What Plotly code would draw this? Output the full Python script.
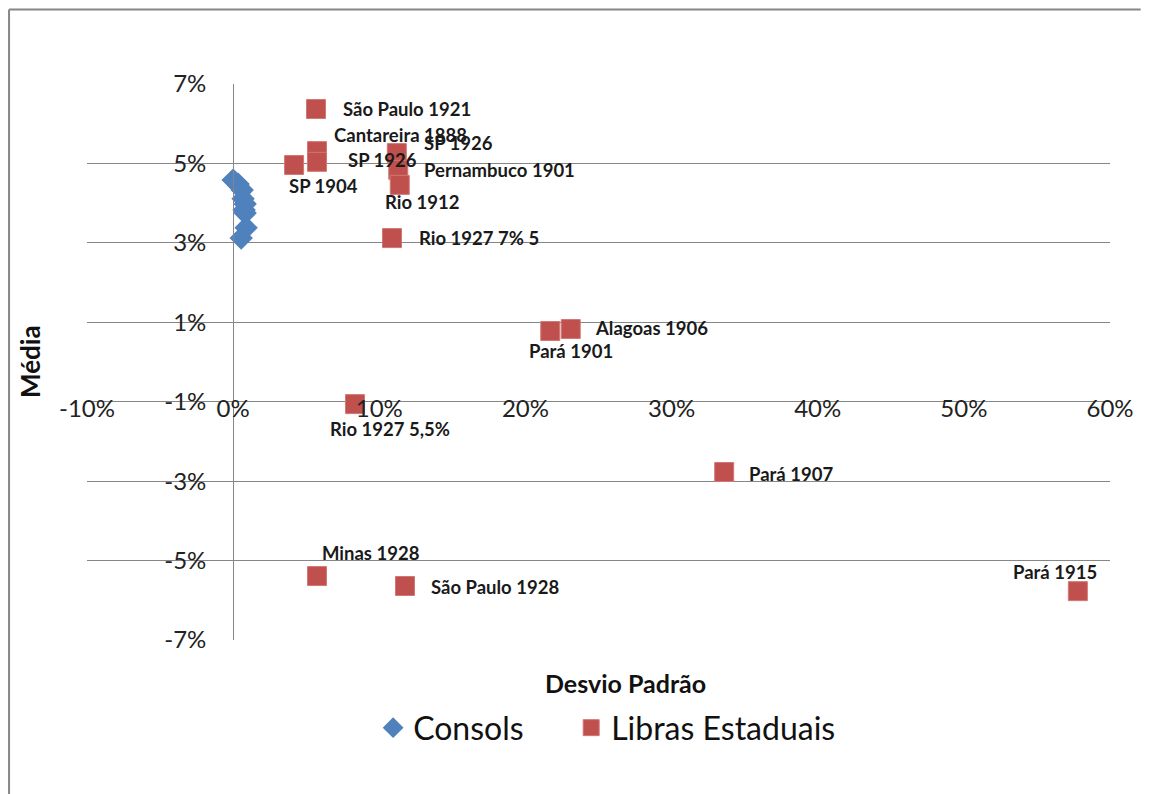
import plotly.graph_objects as go

# Consols (desvio padrão, média)
consols_x = [0.000, 0.0034, 0.0062, 0.0068, 0.0082, 0.0075, 0.0082, 0.0089, 0.0055]
consols_y = [0.0458, 0.0448, 0.0433, 0.0411, 0.0398, 0.0383, 0.0375, 0.0338, 0.0312]

# Libras Estaduais
libras_nomes = ["São Paulo 1921", "Cantareira 1888", "SP 1926", "SP 1904", "SP 1926",
                "Pernambuco 1901", "Rio 1912", "Rio 1927 7% 5", "Alagoas 1906", "Pará 1901",
                "Rio 1927 5,5%", "Pará 1907", "Minas 1928", "São Paulo 1928", "Pará 1915"]
libras_x = [0.0567, 0.0574, 0.0574, 0.0417, 0.1120, 0.1130, 0.1140, 0.1087, 0.2310, 0.2170,
            0.0834, 0.3360, 0.0574, 0.1176, 0.5780]
libras_y = [0.0637, 0.0531, 0.0504, 0.0496, 0.0526, 0.0484, 0.0446, 0.0312, 0.0083, 0.0078,
            -0.0106, -0.0277, -0.0539, -0.0564, -0.0577]

y_ticks = [0.07, 0.05, 0.03, 0.01, -0.01, -0.03, -0.05, -0.07]
x_ticks = [-0.1, 0.0, 0.1, 0.2, 0.3, 0.4, 0.5, 0.6]

# deslocamento dos rótulos (pixels): xshift, yshift
label_offsets = [(25, 0), (15, 16), (29, 2), (-7, -21), (25, 10), (24, 0), (-17, -17), (25, 0),
                 (22, 1), (-23, -20), (-27, -25), (23, -2), (3, 23), (24, -1), (-67, 19)]

FONT = "Lato"
GRID = "#868686"


def pct(v):
    return f"{round(v * 100):d}%"


fig = go.Figure()
fig.add_trace(go.Scatter(x=consols_x, y=consols_y, mode="markers", name="Consols",
                         marker=dict(symbol="diamond", size=18, color="#4F81BD"),
                         legend="legend"))
fig.add_trace(go.Scatter(x=libras_x, y=libras_y, mode="markers", name="Libras Estaduais",
                         marker=dict(symbol="square", size=19, color="#C0504D",
                                     line=dict(color="#D07875", width=1)),
                         legend="legend2"))

for nome, x, y, (dx, dy) in zip(libras_nomes, libras_x, libras_y, label_offsets):
    fig.add_annotation(x=x, y=y, text="<b>" + nome + "</b>", showarrow=False,
                       xanchor="left", yanchor="middle", xshift=dx, yshift=dy,
                       font=dict(family=FONT, size=18.5, color="#1a1a1a"))

fig.update_xaxes(range=[-0.1, 0.6], tickvals=x_ticks, ticktext=[pct(v) for v in x_ticks],
                 showgrid=False, zeroline=False, showline=False, anchor="free",
                 position=6 / 14, ticklabelstandoff=-10,
                 tickfont=dict(family=FONT, size=24, color="#222"))
fig.update_yaxes(range=[-0.07, 0.07], tickvals=y_ticks, ticktext=[pct(v) for v in y_ticks],
                 showgrid=True, gridcolor=GRID, gridwidth=1, zeroline=False, showline=True,
                 linecolor=GRID, anchor="free", position=1 / 7, ticklabelstandoff=22,
                 tickfont=dict(family=FONT, size=24, color="#222"))

# títulos dos eixos
fig.add_annotation(x=-0.0557, y=0.5, xref="paper", yref="paper", text="<b>Média</b>",
                   xanchor="center", yanchor="middle", textangle=-90, showarrow=False,
                   font=dict(family=FONT, size=26, color="#111"))
fig.add_annotation(x=0.526, y=-0.0773, xref="paper", yref="paper", text="<b>Desvio Padrão</b>",
                   xanchor="center", yanchor="middle", showarrow=False,
                   font=dict(family=FONT, size=25, color="#111"))

# moldura do gráfico
fig.add_shape(type="line", xref="paper", yref="paper", x0=-0.0762, x1=-0.0762, y0=1.134, y1=-0.3,
              line=dict(color=GRID, width=2))
fig.add_shape(type="line", xref="paper", yref="paper", x0=-0.0762, x1=1.03, y0=1.134, y1=1.134,
              line=dict(color=GRID, width=2))

legend_font = dict(family=FONT, size=32, color="#111")
fig.update_layout(
    width=1143, height=786,
    margin=dict(l=79, r=41, t=76, b=154),
    paper_bgcolor="white", plot_bgcolor="white",
    showlegend=True,
    legend=dict(orientation="h", x=0.2797, y=-0.158, xanchor="left", yanchor="middle",
                font=legend_font),
    legend2=dict(orientation="h", x=0.4733, y=-0.158, xanchor="left", yanchor="middle",
                 font=legend_font),
    font=dict(family=FONT),
)

fig.write_html("out.html")
